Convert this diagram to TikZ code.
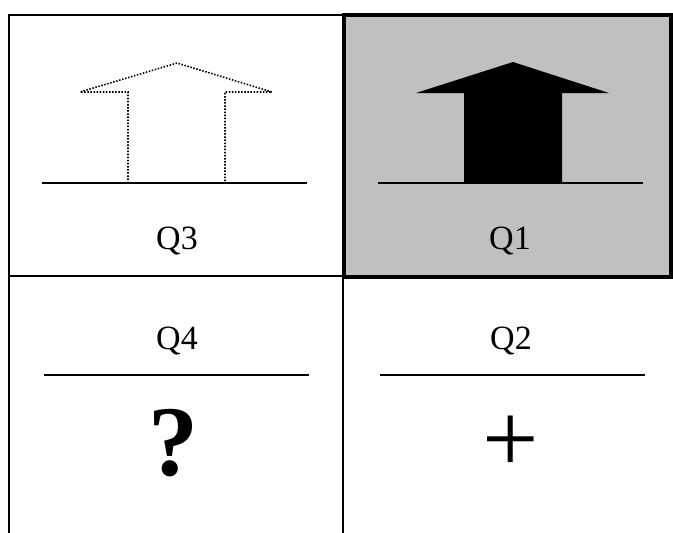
\documentclass[tikz,border=0pt]{standalone}
\usepackage{fontspec}
\setmainfont{Liberation Serif}
\usepackage{xcolor}
\usepackage{tikz}
\usetikzlibrary{positioning}

\definecolor{cellgray}{RGB}{192,192,192}

\begin{document}
\begin{tikzpicture}[
  x=1pt, y=-1pt,
  every node/.style={inner sep=0pt, font=\fontsize{34}{36}\selectfont},
  gridline/.style={draw, line width=2pt},
  hotbox/.style={draw, line width=3.6pt, fill=cellgray},
  ground/.style={draw, line width=1.7pt},
  ghostarrow/.style={draw, line width=1.6pt, dash pattern=on 1.5pt off 1.6pt},
  solidarrow/.style={fill=black},
  bigsign/.style={font=\fontsize{100}{100}\selectfont}
]
\useasboundingbox (0,0) rectangle (673,533);

% grid
\fill[white] (0,0) rectangle (673,533);
\draw[gridline] (9,533) -- (9,15) -- (344,15);
\draw[gridline] (9,276) -- (344,276);
\draw[gridline] (343,276) -- (343,533);
\draw[hotbox] (344,15) rectangle (671,277);

% Q3: dotted arrow
\draw[ground] (42,183) -- (307,183);
\draw[ghostarrow] (128,183) -- (128,92) -- (80,92) -- (177,63)
  -- (272,92) -- (225,92) -- (225,183) -- cycle;
\node (q3) at (177,241) {Q3};

% Q1: solid arrow
\draw[ground] (378,183) -- (643,183);
\fill[solidarrow] (464,183) -- (464,93) -- (416,93) -- (513,62)
  -- (609,93) -- (562,93) -- (562,183) -- cycle;
\node (q1) at (510,241) {Q1};

% Q4 and Q2
\node (q4) at (177,341) {Q4};
\draw[ground] (44,375) -- (309,375);
\node[bigsign] (ask) at (173,443) {\bfseries ?};

\node (q2) at (511,341) {Q2};
\draw[ground] (380,375) -- (645,375);
\node[bigsign] (plus) at (511,444) {+};
\end{tikzpicture}
\end{document}
